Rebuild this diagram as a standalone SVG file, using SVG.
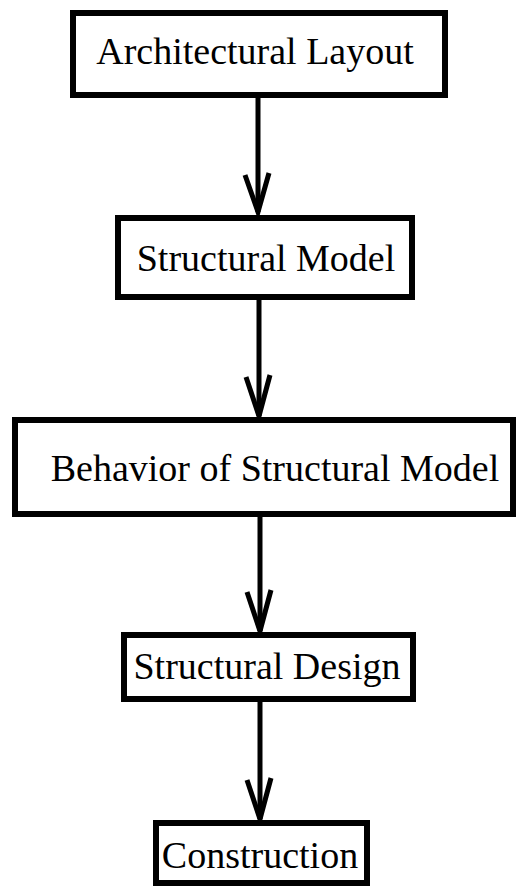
<svg xmlns="http://www.w3.org/2000/svg" width="519" height="890" viewBox="0 0 519 890">
<style>
.box{fill:#fff;stroke:#000;stroke-width:6}
.lbl{font-family:"Liberation Serif","Times New Roman",serif;font-size:38px;fill:#000;text-anchor:middle}
.edge{stroke:#000;stroke-width:5;fill:none}
.head{stroke:#000;stroke-width:5;fill:none;stroke-linejoin:miter}
</style>
<rect width="519" height="890" fill="#fff"/>
<g id="connectors">
<line class="edge" x1="258" y1="98" x2="258" y2="212"/>
<polyline class="head" points="245,175 258,212 269,173"/>
<line class="edge" x1="259" y1="300" x2="259" y2="416"/>
<polyline class="head" points="246,377 259,416 270,375"/>
<line class="edge" x1="260" y1="517" x2="260" y2="631"/>
<polyline class="head" points="247,592 260,631 271,590"/>
<line class="edge" x1="260" y1="702" x2="260" y2="819"/>
<polyline class="head" points="247,780 260,819 271,778"/>
</g>
<g id="n1"><rect class="box" x="73" y="13" width="372" height="82"/><text class="lbl" x="255" y="64">Architectural Layout</text></g>
<g id="n2"><rect class="box" x="118" y="218" width="294" height="79"/><text class="lbl" x="266" y="271">Structural Model</text></g>
<g id="n3"><rect class="box" x="15" y="420" width="498" height="94"/><text class="lbl" x="275" y="481">Behavior of Structural Model</text></g>
<g id="n4"><rect class="box" x="124" y="635" width="289" height="64"/><text class="lbl" x="267" y="679">Structural Design</text></g>
<g id="n5"><rect class="box" x="156" y="823" width="211" height="60"/><text class="lbl" x="260" y="868">Construction</text></g>
</svg>
